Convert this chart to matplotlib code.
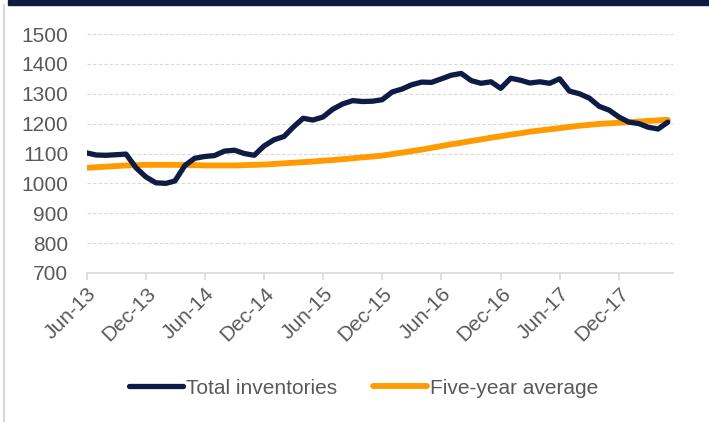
import matplotlib
matplotlib.use("Agg")
import matplotlib.pyplot as plt
import matplotlib.dates as mdates
from matplotlib.patches import Rectangle
from matplotlib.lines import Line2D
import pandas as pd

# Monthly readings, Jun-13 .. May-18
months = pd.date_range("2013-06-01", periods=60, freq="MS")

total_inv = [1102, 1095, 1094, 1096, 1098, 1052, 1022, 1002, 1000, 1008,
             1060, 1084, 1090, 1093, 1108, 1111, 1100, 1094, 1125, 1146,
             1157, 1188, 1218, 1212, 1222, 1248, 1266, 1277, 1274, 1275,
             1280, 1306, 1316, 1330, 1339, 1338, 1350, 1362, 1368, 1344,
             1335, 1340, 1318, 1352, 1345, 1336, 1340, 1335, 1350, 1309,
             1300, 1285, 1258, 1245, 1222, 1205, 1200, 1188, 1182, 1205]

five_year = [1052, 1054, 1056, 1058, 1060, 1061, 1062, 1062, 1062, 1062,
             1061, 1061, 1060, 1060, 1060, 1060, 1061, 1062, 1063, 1065,
             1067, 1069, 1071, 1073, 1076, 1078, 1081, 1084, 1087, 1090,
             1093, 1098, 1103, 1108, 1113, 1119, 1125, 1131, 1136, 1142,
             1147, 1153, 1158, 1163, 1168, 1173, 1177, 1181, 1185, 1189,
             1193, 1196, 1199, 1201, 1203, 1205, 1207, 1209, 1211, 1213]

navy = "#0e1b45"
orange = "#ff9b00"
grey_txt = "#595959"

plt.rcParams["font.family"] = ["Liberation Sans", "DejaVu Sans"]

fig = plt.figure(figsize=(7.09, 4.22), dpi=100)

# frame: dark bar on top, grey line on the left
fig.patches.append(Rectangle((8 / 709, 1 - 5 / 422), 1, 5 / 422, transform=fig.transFigure,
                             color="#111b40", zorder=0))
fig.lines.append(Line2D([4 / 709, 4 / 709], [0, 1 - 5 / 422], transform=fig.transFigure,
                        color="#d9d9d9", lw=1.6))

ax = fig.add_axes([86.5 / 709, 1 - 273 / 422, (673 - 86.5) / 709, (273 - 34) / 422])

ax.plot(months, total_inv, color=navy, lw=3.8, label="Total inventories",
        solid_capstyle="round", solid_joinstyle="round", zorder=3)
ax.plot(months, five_year, color=orange, lw=4.2, label="Five-year average",
        solid_capstyle="round", zorder=2)

ax.set_ylim(700, 1500)
ax.set_yticks(range(700, 1501, 100))
ax.set_xlim(months[0], months[-1] + pd.Timedelta(days=16))
ax.set_xticks(months[::6])
ax.xaxis.set_major_formatter(mdates.DateFormatter("%b-%y"))

ax.grid(axis="y", color="#d9d9d9", linestyle=(0, (3, 2)), lw=0.8)
ax.set_axisbelow(True)
for s in ["top", "right", "left"]:
    ax.spines[s].set_visible(False)
ax.spines["bottom"].set_color("#d9d9d9")
ax.spines["bottom"].set_linewidth(1.2)

ax.tick_params(axis="y", length=0, pad=13, labelsize=15, labelcolor=grey_txt)
ax.tick_params(axis="x", length=5, width=1.2, color="#d9d9d9", pad=3,
               labelsize=15, labelcolor=grey_txt)
for lab in ax.get_xticklabels():
    lab.set_rotation(45)
    lab.set_ha("right")
    lab.set_rotation_mode("anchor")

fig.legend(loc="center", bbox_to_anchor=(0.513, 1 - 388 / 422), ncol=2, frameon=False,
           fontsize=15, handlelength=2.6, handletextpad=0.15, columnspacing=1.7,
           labelcolor=grey_txt)

fig.savefig("out.png", dpi=100)
